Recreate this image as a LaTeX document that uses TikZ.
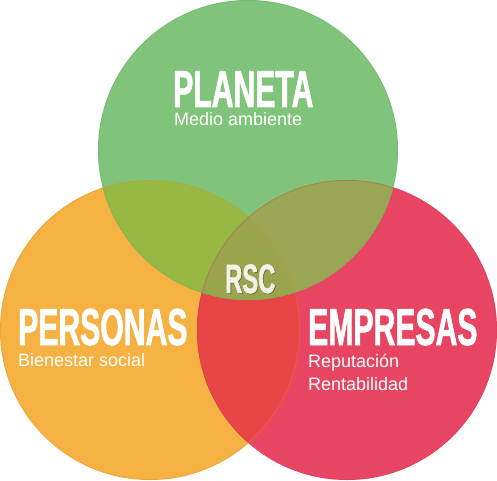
\documentclass[tikz,border=0pt]{standalone}
\usepackage{fontspec}
\setmainfont{Liberation Sans}
\newfontfamily\condfont{Liberation Sans Bold}[FakeStretch=0.58,FakeBold=1.2]
\definecolor{cgreen}{HTML}{7FC47A}
\definecolor{corange}{HTML}{F5B142}
\definecolor{cred}{HTML}{E84563}
\definecolor{cog}{HTML}{97B843}
\definecolor{cgr}{HTML}{9AA653}
\definecolor{cor}{HTML}{E84646}
\definecolor{cogr}{HTML}{99A44C}
\definecolor{crsc}{HTML}{F3F1E6}
\tikzset{
  title/.style={anchor=base west, inner sep=0pt, text=white, text height=37pt, text depth=0pt, font=\condfont\fontsize{52}{52}\selectfont},
  sub/.style={anchor=base west, inner sep=0pt, text=white, text height=13pt, text depth=3pt, font=\fontsize{18}{18}\selectfont},
  rim/.style={line width=0.8pt}
}
\begin{document}
\begin{tikzpicture}[x=1pt,y=1pt]
\useasboundingbox (0,0) rectangle (497,480);
\coordinate (G) at (248,330);
\coordinate (O) at (150,150);
\coordinate (R) at (347,150);
% base circles
\fill[corange] (O) circle[radius=150pt];
\fill[cred] (R) circle[radius=150pt];
\fill[cgreen] (G) circle[radius=150pt];
% pairwise overlaps
\begin{scope}
  \clip (O) circle[radius=150pt];
  \fill[cor] (R) circle[radius=150pt];
  \fill[cog] (G) circle[radius=150pt];
\end{scope}
\begin{scope}
  \clip (R) circle[radius=150pt];
  \fill[cgr] (G) circle[radius=150pt];
\end{scope}
\begin{scope}
  \clip (O) circle[radius=150pt];
  \clip (R) circle[radius=150pt];
  \fill[cogr] (G) circle[radius=150pt];
\end{scope}
% rims
\draw[rim, corange!85!black, opacity=0.35] (O) circle[radius=149.6pt];
\draw[rim, cred!85!black, opacity=0.35] (R) circle[radius=149.6pt];
\draw[rim, cgreen!85!black, opacity=0.35] (G) circle[radius=149.6pt];
% texts
\node[title] (planeta) at (173,373) {PLANETA};
\node[sub] (medio) at (174,354) {Medio ambiente};
\node[title] (personas) at (18,135) {PERSONAS};
\node[sub] (bienestar) at (18,114) {Bienestar social};
\node[title] (empresas) at (308,135) {EMPRESAS};
\node[sub] (reput) at (308,113) {Reputación};
\node[sub] (rentab) at (308,90) {Rentabilidad};
\node[title, text height=29pt, text=black, opacity=0.25, font=\condfont\fontsize{41}{41}\selectfont] (rscshadow) at (225.8,186.2) {RSC};
\node[title, text height=29pt, text=crsc, font=\condfont\fontsize{41}{41}\selectfont] (rsc) at (225,187) {RSC};
\end{tikzpicture}
\end{document}
